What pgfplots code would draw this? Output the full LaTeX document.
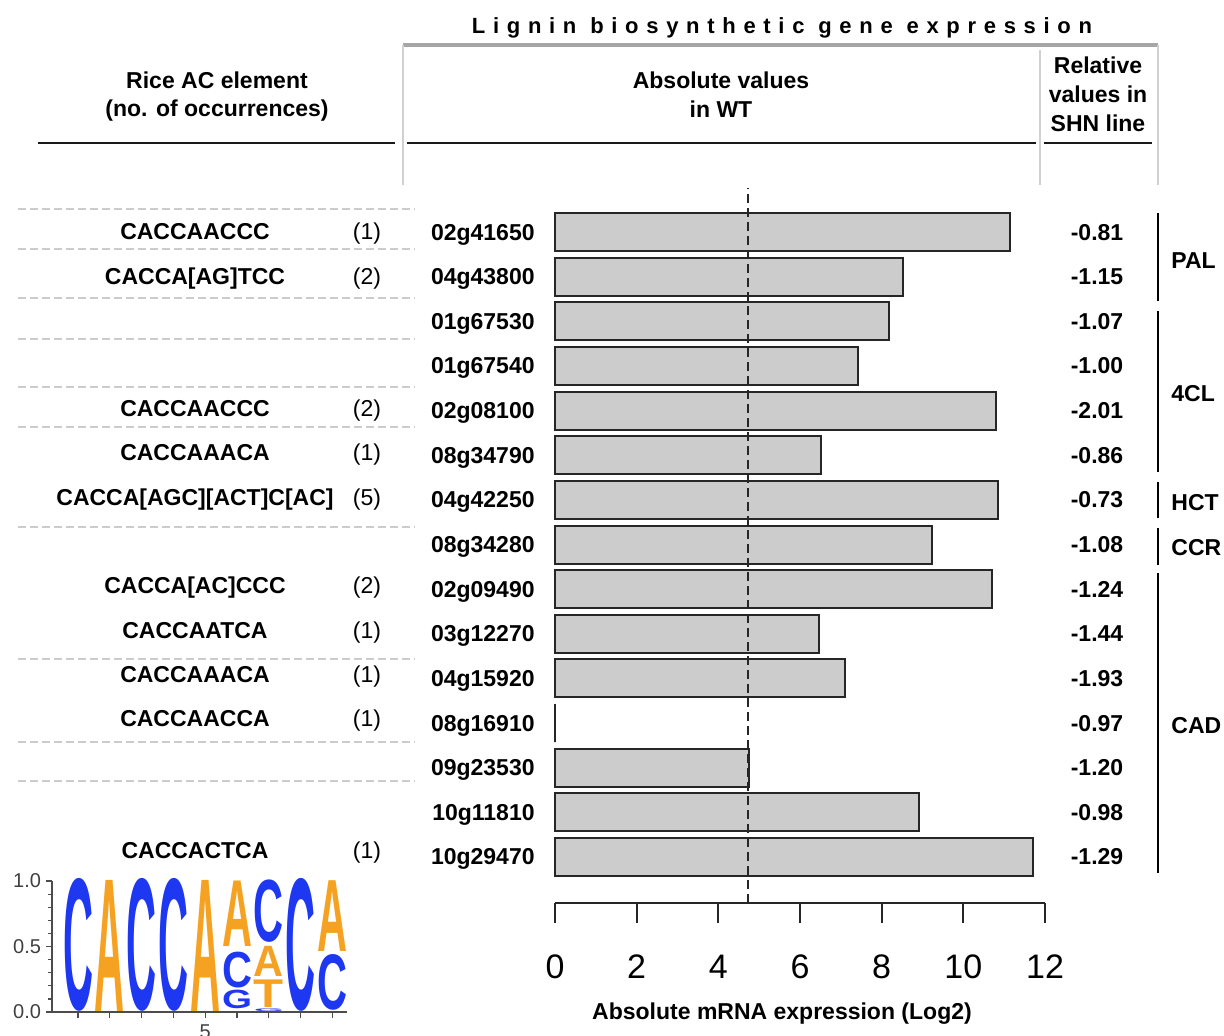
\documentclass[border=0pt]{standalone}
\usepackage{fontspec}
\setmainfont{Liberation Sans}
\usepackage{pgfplots}
\pgfplotsset{compat=1.18}
\definecolor{logoblue}{RGB}{30,55,240}
\definecolor{logoorange}{RGB}{245,162,35}
\definecolor{barfill}{RGB}{204,204,204}
\newcommand{\LL}[5]{\node[inner sep=0pt,anchor=south,text=#4] at (axis cs:#1,#2) {\resizebox{15pt}{#3}{\bfseries #5}};}
\begin{document}
\begin{tikzpicture}[x=0.5pt,y=-0.5pt]
\useasboundingbox (0,0) rectangle (1224,1035);
\coordinate (mainSW) at (555,903);
\coordinate (logoSW) at (52,1012);
\tikzset{txt/.style={font=\fontsize{11.5}{14}\selectfont\bfseries, inner sep=0pt},
         rtxt/.style={font=\fontsize{11.5}{14}\selectfont, inner sep=0pt}}
% title and header frame
\node[font=\fontsize{11}{12}\selectfont\bfseries\addfontfeature{LetterSpace=35}, anchor=base, inner sep=0pt] at (782,33) {Lignin biosynthetic gene expression};
\draw[line width=2pt, black!35] (403,45) -- (1158,45);
\draw[line width=0.8pt, black!18] (403,45) -- (403,185);
\draw[line width=0.8pt, black!18] (1040,50) -- (1040,185);
\draw[line width=0.8pt, black!18] (1158,45) -- (1158,185);
\node[txt, anchor=base] at (217,88) {Rice AC element};
\node[txt, anchor=base] at (217,116) {(no. of occurrences)};
\node[txt, anchor=base] at (721,88) {Absolute values};
\node[txt, anchor=base] at (721,117) {in WT};
\node[txt, anchor=base] at (1098,73) {Relative};
\node[txt, anchor=base] at (1098,102) {values in};
\node[txt, anchor=base] at (1098,131) {SHN line};
\draw[line width=1.3pt, black!90] (38,143) -- (395,143);
\draw[line width=1.3pt, black!90] (407,143) -- (1036,143);
\draw[line width=1.3pt, black!90] (1044,143) -- (1152,143);
% left dashed separators
\foreach \yy in {209,249,298,339,387,427,527,659,742,781}
  \draw[black!20, line width=1pt, dash pattern=on 4pt off 2pt] (18,\yy) -- (415,\yy);
% AC elements
\node[txt, anchor=base] at (195,239) {CACCAACCC};      \node[rtxt, anchor=base] at (367,239) {(1)};
\node[txt, anchor=base] at (195,284) {CACCA[AG]TCC};   \node[rtxt, anchor=base] at (367,284) {(2)};
\node[txt, anchor=base] at (195,416) {CACCAACCC};      \node[rtxt, anchor=base] at (367,416) {(2)};
\node[txt, anchor=base] at (195,460) {CACCAAACA};      \node[rtxt, anchor=base] at (367,460) {(1)};
\node[txt, anchor=base] at (195,505) {CACCA[AGC][ACT]C[AC]}; \node[rtxt, anchor=base] at (367,505) {(5)};
\node[txt, anchor=base] at (195,593) {CACCA[AC]CCC};   \node[rtxt, anchor=base] at (367,593) {(2)};
\node[txt, anchor=base] at (195,638) {CACCAATCA};      \node[rtxt, anchor=base] at (367,638) {(1)};
\node[txt, anchor=base] at (195,682) {CACCAAACA};      \node[rtxt, anchor=base] at (367,682) {(1)};
\node[txt, anchor=base] at (195,726) {CACCAACCA};      \node[rtxt, anchor=base] at (367,726) {(1)};
\node[txt, anchor=base] at (195,858) {CACCACTCA};      \node[rtxt, anchor=base] at (367,858) {(1)};
% gene ids and relative values
\foreach \g/\v [count=\i from 0] in {02g41650/-0.81,04g43800/-1.15,01g67530/-1.07,01g67540/-1.00,02g08100/-2.01,08g34790/-0.86,04g42250/-0.73,08g34280/-1.08,02g09490/-1.24,03g12270/-1.44,04g15920/-1.93,08g16910/-0.97,09g23530/-1.20,10g11810/-0.98,10g29470/-1.29}{
  \node[txt, anchor=base east] at (535,{240+44.64*\i}) {\g};
  \node[txt, anchor=base] at (1097,{240+44.64*\i}) {\v};
}
% gene family brackets
\draw[line width=1pt] (1158,213) -- (1158,301);
\draw[line width=1pt] (1158,311) -- (1158,472);
\draw[line width=1pt] (1158,482) -- (1158,518);
\draw[line width=1pt] (1158,528) -- (1158,565);
\draw[line width=1pt] (1158,573) -- (1158,873);
\node[txt, anchor=base west] at (1171,268) {PAL};
\node[txt, anchor=base west] at (1171,401) {4CL};
\node[txt, anchor=base west] at (1171,510) {HCT};
\node[txt, anchor=base west] at (1171,555) {CCR};
\node[txt, anchor=base west] at (1171,733) {CAD};
\node[txt, anchor=base] at (782,1019) {Absolute mRNA expression (Log2)};
% main bar axis
\begin{axis}[at={(mainSW)}, anchor=south west, width=245pt, height=357.5pt, scale only axis,
  xmin=0, xmax=12, ymin=-0.03, ymax=15.986,
  axis x line*=bottom, axis y line*=left, y axis line style={draw=none},
  xtick={0,2,...,12}, ytick=\empty,
  xtick align=outside, major tick length=10pt,
  x axis line style={line width=1pt, black!85}, xtick style={line width=1pt, black!85},
  xticklabel style={font=\fontsize{17}{17}\selectfont, yshift=-12.5pt},
  /pgf/number format/assume math mode=true,
  clip=false]
\addplot[xbar, bar width=0.85, fill=barfill, draw=black!85, line width=1pt] coordinates {
 (11.14,15) (8.52,14) (8.18,13) (7.42,12) (10.80,11) (6.51,10) (10.85,9) (9.23,8)
 (10.70,7) (6.47,6) (7.10,5) (0,4) (4.75,3) (8.91,2) (11.71,1)};
\addplot[black!85, line width=0.8pt, dash pattern=on 4.5pt off 2.5pt] coordinates {(4.73,-0.03) (4.73,15.986)};
\end{axis}
% sequence logo
\begin{axis}[at={(logoSW)}, anchor=south west, width=147.5pt, height=65.5pt, scale only axis,
  xmin=0.18, xmax=9.46, ymin=0, ymax=1,
  axis x line*=bottom, axis y line*=left,
  xtick={1,...,9}, xticklabels={,,,,5,,,,},
  ytick={0,0.5,1}, yticklabels={0.0,0.5,1.0}, minor ytick={0.1,0.2,0.3,0.4,0.6,0.7,0.8,0.9},
  tick align=outside, major tick length=3pt, minor tick length=2pt,
  tick style={black!70, line width=0.6pt}, axis line style={black!70, line width=0.6pt},
  ticklabel style={font=\fontsize{10}{10}\selectfont, text=black!75},
  yticklabel style={xshift=1pt},
  /pgf/number format/assume math mode=true,
  clip=false]
\LL{1}{0}{65.5pt}{logoblue}{C}
\LL{2}{0}{65.5pt}{logoorange}{A}
\LL{3}{0}{65.5pt}{logoblue}{C}
\LL{4}{0}{65.5pt}{logoblue}{C}
\LL{5}{0}{65.5pt}{logoorange}{A}
\LL{6}{0.02}{9.2pt}{logoblue}{G}
\LL{6}{0.18}{17.7pt}{logoblue}{C}
\LL{6}{0.50}{32.75pt}{logoorange}{A}
\LL{7}{0.0}{1.3pt}{logoblue}{G}
\LL{7}{0.03}{13.8pt}{logoorange}{T}
\LL{7}{0.27}{15.1pt}{logoorange}{A}
\LL{7}{0.53}{30.8pt}{logoblue}{C}
\LL{8}{0}{65.5pt}{logoblue}{C}
\LL{9}{0.01}{27.5pt}{logoblue}{C}
\LL{9}{0.46}{35.4pt}{logoorange}{A}
\end{axis}
\end{tikzpicture}
\end{document}
